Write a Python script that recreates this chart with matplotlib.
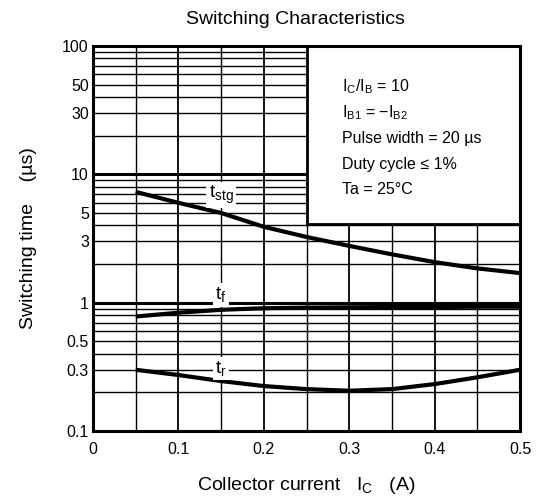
import numpy as np
import matplotlib
matplotlib.use("Agg")
from matplotlib import pyplot as plt
from matplotlib.patches import Rectangle

plt.rcParams["font.family"] = ["Liberation Sans", "DejaVu Sans"]
plt.rcParams["mathtext.fontset"] = "custom"
plt.rcParams["mathtext.rm"] = "Liberation Sans"
plt.rcParams["mathtext.it"] = "Liberation Sans"

# values
ic = [0.05, 0.10, 0.15, 0.20, 0.25, 0.30, 0.35, 0.40, 0.45, 0.50]
t_stg = [7.3, 6.0, 5.0, 3.9, 3.25, 2.77, 2.38, 2.07, 1.85, 1.70]
t_f = [0.78, 0.835, 0.88, 0.905, 0.915, 0.92, 0.925, 0.925, 0.93, 0.93]
t_r = [0.30, 0.273, 0.245, 0.224, 0.212, 0.206, 0.212, 0.232, 0.262, 0.30]

y_ticks = [0.1, 0.3, 0.5, 1, 3, 5, 10, 30, 50, 100]
y_tick_labels = ["0.1", "0.3", "0.5", "1", "3", "5", "10", "30", "50", "100"]
x_ticks = [0, 0.1, 0.2, 0.3, 0.4, 0.5]
x_tick_labels = ["0", "0.1", "0.2", "0.3", "0.4", "0.5"]

conditions = [r"$\mathregular{I_C/I_B}$ = 10",
              r"$\mathregular{I_{B1}}$ = −$\mathregular{I_{B2}}$",
              "Pulse width = 20 µs",
              "Duty cycle ≤ 1%",
              "Ta = 25°C"]

fig = plt.figure(figsize=(5.42, 5.0), dpi=100)
ax = fig.add_axes([93 / 542, 1 - 431 / 500, 427 / 542, 385 / 500])
ax.set_yscale("log")
ax.set_xlim(0, 0.5)
ax.set_ylim(0.1, 100)

# grid: vertical every 0.05, horizontal at every log minor
for x in np.arange(0.05, 0.5, 0.05):
    lw = 1.3 if round(x / 0.05) % 2 == 0 else 1.0
    ax.axvline(x, color="black", lw=lw, zorder=1)
for dec in [0.1, 1, 10]:
    for m in range(2, 10):
        ax.axhline(dec * m, color="black", lw=1.0, zorder=1)
for y in [1, 10]:
    ax.axhline(y, color="black", lw=2.2, zorder=1)

# conditions box
ax.add_patch(Rectangle((0.25, 4.1), 0.25, 100 - 4.1, facecolor="white",
                       edgecolor="black", lw=2, zorder=3))
for i, line in enumerate(conditions):
    ax.text(0.583, 0.894 - i * 0.067, line, transform=ax.transAxes,
            fontsize=11.5, va="center", ha="left", zorder=4)

# curves
for vals in [t_stg, t_f, t_r]:
    ax.plot(ic, vals, color="black", lw=3, zorder=5, solid_capstyle="butt")

label_kw = dict(fontsize=14, ha="center", va="center", zorder=6,
                bbox=dict(facecolor="white", edgecolor="none", pad=1.5))
ax.text(0.15, 6.9, r"$\mathregular{t_{stg}}$", **label_kw)
ax.text(0.15, 1.15, r"$\mathregular{t_f}$", **label_kw)
ax.text(0.15, 0.305, r"$\mathregular{t_r}$", **label_kw)

ax.set_xticks(x_ticks)
ax.set_xticklabels(x_tick_labels)
ax.set_yticks(y_ticks)
ax.set_yticklabels(y_tick_labels)
ax.yaxis.set_minor_locator(matplotlib.ticker.NullLocator())
ax.tick_params(length=0, labelsize=11.5, pad=8)
ax.tick_params(axis="y", pad=3)
for s in ax.spines.values():
    s.set_linewidth(2.2)
    s.set_zorder(7)

ax.set_title("Switching Characteristics", fontsize=14, pad=16, x=0.475)
ax.set_xlabel(r"Collector current   $\mathregular{I_C}$   (A)", fontsize=14, labelpad=13)
ax.set_ylabel("Switching time    (µs)", fontsize=14, labelpad=18)

fig.savefig("out.png", dpi=100)
